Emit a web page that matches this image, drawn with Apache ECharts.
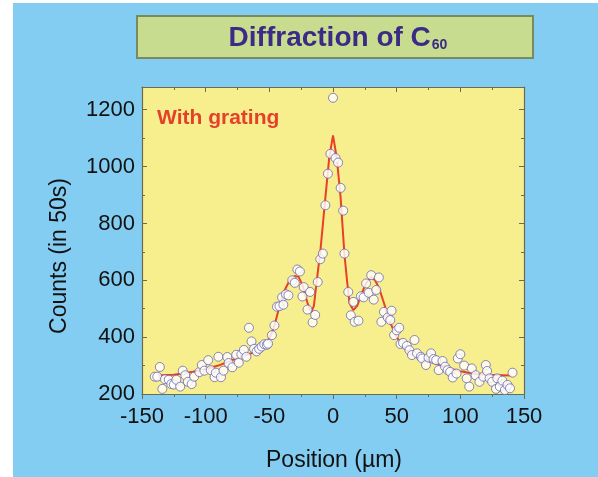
<!DOCTYPE html>
<html lang="en">
<head>
<meta charset="UTF-8">
<title>Diffraction of C60</title>
<script src="https://cdn.jsdelivr.net/npm/echarts@6/dist/echarts.min.js"></script>
<style>
    html, body { margin: 0; padding: 0; background: #fff; }
    #chart { width: 598px; height: 477px; }
</style>
</head>
<body>
<div id="chart"></div>
<script>
    // measured points (position in µm, counts in 50 s)
    var posX = [-140,-138,-136,-134,-132,-129,-127,-125,-123,-120,-118,-116,-114,-111,-109,-105,-103,-101,-98,-96,
        -93,-92,-90,-88,-86,-83,-82,-79,-76,-74,-72,-70,-68,-66,-64,-62,-60,-58,-56,-54,
        -52,-51,-48,-46,-44,-42,-40,-39,-37,-35,-32,-30,-28,-26,-24,-23,-20,-18,-16,-14,
        -12,-10,-8,-6,-4,-2,0,2,4,6,8,9,
        12,14,16,17,20,22,24,26,28,30,32,34,36,38,40,43,45,46,48,50,
        52,53,55,58,60,62,64,66,69,70,73,75,77,79,81,83,86,88,90,92,
        94,97,98,100,103,105,107,109,112,115,118,120,121,123,125,128,129,131,133,135,
        137,139,141];
    var counts = [261,261,295,218,252,250,235,233,250,226,282,266,243,235,261,277,302,282,319,284,
        259,275,331,259,282,330,309,294,338,310,339,355,331,433,385,359,350,359,367,375,
        373,377,407,441,507,509,540,514,551,547,600,591,638,631,543,576,497,559,452,478,
        594,674,694,864,975,1045,1242,1030,1014,925,845,694,
        559,477,524,454,458,544,540,589,556,618,532,566,610,454,489,469,460,493,407,424,
        433,376,380,369,354,337,390,343,331,325,302,328,343,323,319,284,316,296,284,278,
        258,272,325,340,300,255,226,290,266,243,261,302,281,255,243,218,255,226,247,214,
        232,220,275];

    // fitted curve (red)
    var fitX = [-140,-125,-110,-100,-90,-80,-70,-63,-55,-50,-46,-42,-38,-34,-30,-27,-24,-20,-17,-15,
        -13,-10,-6,-3,0,3,6,9,11,13,16,19,22,26,30,33,36,40,44,50,
        55,60,70,80,90,100,110,120,140];
    var fitY = [265,268,278,288,300,318,335,345,370,395,440,510,565,600,615,612,583,520,489,510,
        589,700,890,1030,1110,1030,890,690,600,519,495,510,548,590,612,600,575,520,460,401,
        365,345,325,308,292,280,272,268,265];

    var xTicks = { min: -150, max: 150, interval: 50 };
    var yTicks = { min: 200, max: 1280, interval: 200 };

    var pts = [];
    for (var i = 0; i < posX.length; i++) pts.push([posX[i], counts[i]]);
    var fit = [];
    for (var j = 0; j < fitX.length; j++) fit.push([fitX[j], fitY[j]]);

    var axisCol = '#6b6b52';
    var txtCol = '#111111';
    var font = 'Liberation Sans, Arial, sans-serif';

    var chart = echarts.init(document.getElementById('chart'));
    var option = {
        backgroundColor: '#84cdf2',
        animation: false,
        grid: {
            left: 142, top: 87, width: 382, height: 307,
            show: true, backgroundColor: '#f7ef8e', borderWidth: 0
        },
        graphic: [
            { type: 'rect', shape: { x: 0, y: 0, width: 13, height: 477 }, style: { fill: '#fff' } },
            { type: 'rect', shape: { x: 0, y: 0, width: 598, height: 3 }, style: { fill: '#fff' } },
            { type: 'rect', shape: { x: 137, y: 16, width: 396, height: 42 },
              style: { fill: '#c8dc8f', stroke: '#7b8a5c', lineWidth: 2 } },
            { type: 'text', x: 338, y: 38,
              style: {
                  text: '{a|Diffraction of C}{b|60}',
                  align: 'center', verticalAlign: 'middle',
                  rich: {
                      a: { fontSize: 28, fontWeight: 'bold', fill: '#3b2a86', fontFamily: font },
                      b: { fontSize: 14, fontWeight: 'bold', fill: '#3b2a86', fontFamily: font, padding: [14, 0, 0, 1] }
                  }
              } },
            { type: 'text', x: 157, y: 118,
              style: { text: 'With grating', fontSize: 21, fontWeight: 'bold', fill: '#e5402a',
                       fontFamily: font, verticalAlign: 'middle' } },
            { type: 'text', x: 60, y: 256, rotation: Math.PI / 2,
              style: { text: 'Counts (in 50s)', fontSize: 23, fill: txtCol, fontFamily: font,
                       align: 'center', verticalAlign: 'middle' } },
            { type: 'text', x: 334, y: 461,
              style: { text: 'Position (µm)', fontSize: 23, fill: txtCol, fontFamily: font,
                       align: 'center', verticalAlign: 'middle' } }
        ],
        xAxis: [
            {
                type: 'value', min: xTicks.min, max: xTicks.max, interval: xTicks.interval,
                axisLine: { onZero: false, lineStyle: { color: axisCol, width: 1.2 } },
                axisTick: { inside: false, length: 5, lineStyle: { color: axisCol } },
                minorTick: { show: true, splitNumber: 2, length: 3, lineStyle: { color: axisCol } },
                splitLine: { show: false },
                axisLabel: { fontSize: 22, color: txtCol, fontFamily: font, margin: 12 }
            },
            {
                type: 'value', position: 'top', min: xTicks.min, max: xTicks.max, interval: xTicks.interval,
                axisLine: { onZero: false, lineStyle: { color: axisCol, width: 1.2 } },
                axisTick: { inside: true, length: 5, lineStyle: { color: axisCol } },
                minorTick: { show: true, splitNumber: 2, length: 3, lineStyle: { color: axisCol } },
                splitLine: { show: false },
                axisLabel: { show: false }
            }
        ],
        yAxis: [
            {
                type: 'value', min: yTicks.min, max: yTicks.max, interval: yTicks.interval,
                axisLine: { show: true, onZero: false, lineStyle: { color: axisCol, width: 1.2 } },
                axisTick: { inside: true, length: 5, lineStyle: { color: axisCol } },
                minorTick: { show: true, splitNumber: 2, length: 3, lineStyle: { color: axisCol } },
                splitLine: { show: false },
                axisLabel: {
                    fontSize: 22, color: txtCol, fontFamily: font, margin: 7, showMaxLabel: false,
                    formatter: function (v) { return String(v); }
                }
            },
            {
                type: 'value', position: 'right', min: yTicks.min, max: yTicks.max, interval: yTicks.interval,
                axisLine: { show: true, onZero: false, lineStyle: { color: axisCol, width: 1.2 } },
                axisTick: { inside: true, length: 5, lineStyle: { color: axisCol } },
                minorTick: { show: true, splitNumber: 2, length: 3, lineStyle: { color: axisCol } },
                splitLine: { show: false },
                axisLabel: { show: false }
            }
        ],
        series: [
            {
                name: 'fit', type: 'line', data: fit, showSymbol: false, smooth: false,
                lineStyle: { color: '#e8402a', width: 2 }, z: 2
            },
            {
                name: 'data', type: 'scatter', data: pts, symbolSize: 9,
                itemStyle: { color: '#ffffff', borderColor: '#6c68b0', borderWidth: 1 }, z: 3
            }
        ]
    };
    chart.setOption(option);
</script>
</body>
</html>
